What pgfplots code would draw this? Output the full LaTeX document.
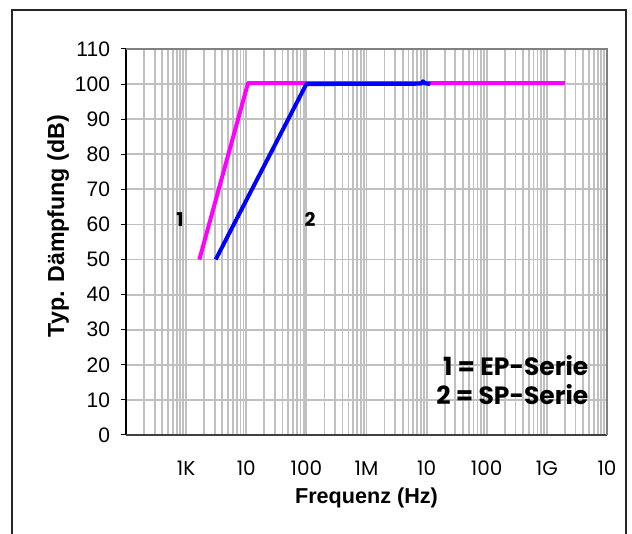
\documentclass[border=0pt]{standalone}
\usepackage{fontspec}
\setmainfont{Liberation Sans}
\newfontfamily\gothic{Poppins}
\usepackage{pgfplots}
\pgfplotsset{compat=1.18}
\definecolor{gridgray}{RGB}{192,192,192}
\definecolor{curvemag}{RGB}{255,0,255}
\definecolor{curveblue}{RGB}{0,0,255}

\begin{document}
\begin{tikzpicture}
\useasboundingbox (0,0) rectangle (316pt,267pt);
% outer frame (open at the bottom)
\draw[line width=0.9pt, black!85] (6pt,0) -- (6pt,262pt) -- (313pt,262pt) -- (313pt,0);
\begin{axis}[
  at={(63pt,49.5pt)}, anchor=south west,
  scale only axis, width=240.5pt, height=193pt,
  xmode=log,
  xmin=1e2, xmax=1e10,
  ymin=0, ymax=110,
  xtick={1e3,1e4,1e5,1e6,1e7,1e8,1e9,1e10},
  xticklabels={1K,10,100,1M,10,100,1G,10},
  minor xtick={2e2,3e2,4e2,5e2,6e2,7e2,8e2,9e2,
               2e3,3e3,4e3,5e3,6e3,7e3,8e3,9e3,
               2e4,3e4,4e4,5e4,6e4,7e4,8e4,9e4,
               2e5,3e5,4e5,5e5,6e5,7e5,8e5,9e5,
               2e6,3e6,4e6,5e6,6e6,7e6,8e6,9e6,
               2e7,3e7,4e7,5e7,6e7,7e7,8e7,9e7,
               2e8,3e8,4e8,5e8,6e8,7e8,8e8,9e8,
               2e9,3e9,4e9,5e9,6e9,7e9,8e9,9e9},
  ytick={0,10,...,110},
  xmajorgrids, xminorgrids, ymajorgrids,
  major grid style={gridgray, line width=0.9pt},
  minor grid style={gridgray, line width=0.9pt},
  xtick style={draw=none},
  minor tick length=0pt,
  ytick pos=left,
  ytick style={black, line width=0.5pt},
  tick align=outside,
  major tick length=2.5pt,
  axis line style={draw=none},
  /pgf/number format/assume math mode=true,
  yticklabel style={font=\fontsize{10.5}{12}\selectfont, xshift=-2pt},
  xticklabel style={font=\gothic\fontsize{10}{12}\selectfont, yshift=-7pt},
  xlabel={Frequenz (Hz)},
  ylabel={Typ. Dämpfung (dB)},
  xlabel style={font=\bfseries\fontsize{10.8}{13}\selectfont,
                at={(axis description cs:0.5,-0.163)}, anchor=center},
  ylabel style={font=\bfseries\fontsize{11.6}{13}\selectfont,
                at={(axis description cs:-0.141,0.541)}, anchor=center},
  clip=false,
]
% 1 = EP-Serie
\addplot[curvemag, line width=2pt, line join=round] coordinates {
  (1.66e3,50) (1.07e4,100.3) (2.0e9,100.3)
};
% 2 = SP-Serie
\addplot[curveblue, line width=2pt, line join=round] coordinates {
  (3.1e3,50) (1.0e5,100) (8.0e6,100.1) (8.7e6,100.8) (9.4e6,100.2) (1.15e7,100)
};
% axis frame
\draw[black, line width=0.8pt] (rel axis cs:0,0) -- (rel axis cs:0,1);
\draw[black!75, line width=1pt] (rel axis cs:0,0) -- (rel axis cs:1,0);
\draw[black!50, line width=1.2pt] (rel axis cs:0,1) -- (rel axis cs:1,1) -- (rel axis cs:1,0);
% curve labels
\node[font=\gothic\bfseries\fontsize{9.5}{11}\selectfont] at (axis cs:791,61.5) {1};
\node[font=\gothic\bfseries\fontsize{9.5}{11}\selectfont] at (axis cs:1.15e5,61.3) {2};
\node[font=\gothic\bfseries\fontsize{12.5}{14}\selectfont, anchor=east] at (axis cs:6.4e9,19.9) {1 = EP-Serie};
\node[font=\gothic\bfseries\fontsize{12.5}{14}\selectfont, anchor=east] at (axis cs:6.4e9,11.4) {2 = SP-Serie};
\end{axis}
\end{tikzpicture}
\end{document}
